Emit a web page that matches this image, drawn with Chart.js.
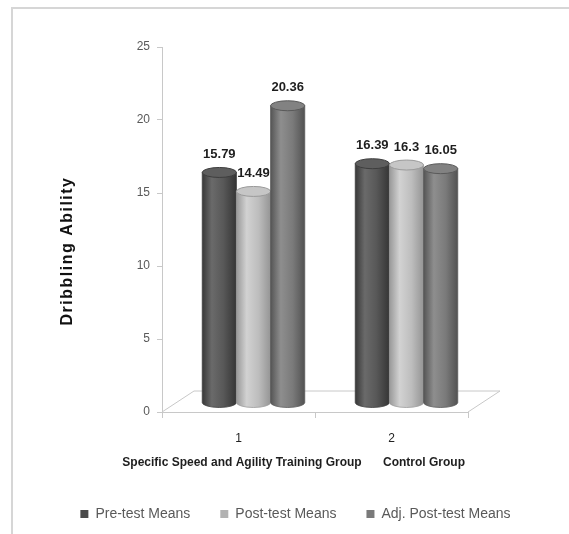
<!DOCTYPE html>
<html>
<head>
<meta charset="utf-8">
<script src="https://cdn.jsdelivr.net/npm/chart.js@4"></script>
<style>
  html, body { margin: 0; padding: 0; background: #fff; }
  #wrap { position: relative; width: 569px; height: 534px; }
</style>
</head>
<body>
<div id="wrap"><canvas id="c" width="569" height="534"></canvas></div>
<script>
// ---- data ----
const categories = ['1', '2'];
const seriesNames = ['Pre-test Means', 'Post-test Means', 'Adj. Post-test Means'];
const preTest = [15.79, 16.39];
const postTest = [14.49, 16.3];
const adjPostTest = [20.36, 16.05];
const yTicks = [0, 5, 10, 15, 20, 25];
const yTitle = 'Dribbling Ability';
const groupNames = ['Specific Speed and Agility Training Group', 'Control Group'];

// ---- styles ----
const legendColors = ['#4a4a4a', '#b2b2b2', '#7a7a7a'];
const bodyStops = [
  [[0, '#383838'], [0.28, '#6a6a6a'], [0.62, '#585858'], [1, '#353535']],
  [[0, '#989898'], [0.3, '#d2d2d2'], [0.65, '#bdbdbd'], [1, '#959595']],
  [[0, '#555555'], [0.3, '#8e8e8e'], [0.65, '#7a7a7a'], [1, '#525252']]
];
const capFill = ['#5e5e5e', '#c6c6c6', '#828282'];
const capStroke = ['#3e3e3e', '#9a9a9a', '#5a5a5a'];
const BAR_DX = 15, BAR_DY = -9, FLOOR_DX = 32, FLOOR_DY = -21, RY = 5;

const cylPlugin = {
  id: 'cyl',
  beforeDraw(chart) {
    const ctx = chart.ctx;
    ctx.save();
    ctx.strokeStyle = '#d6d6d6';
    ctx.lineWidth = 2;
    ctx.beginPath();
    ctx.moveTo(12, 534); ctx.lineTo(12, 8); ctx.lineTo(569, 8);
    ctx.stroke();
    ctx.restore();
  },
  beforeDatasetsDraw(chart) {
    const ctx = chart.ctx;
    const a = chart.chartArea;
    const y0 = chart.scales.y.getPixelForValue(0);
    // floor
    ctx.save();
    ctx.strokeStyle = '#c8c8c8';
    ctx.lineWidth = 1;
    ctx.beginPath();
    ctx.moveTo(a.left, y0);
    ctx.lineTo(a.left + FLOOR_DX, y0 + FLOOR_DY);
    ctx.lineTo(a.right + FLOOR_DX, y0 + FLOOR_DY);
    ctx.lineTo(a.right, y0);
    ctx.stroke();
    ctx.restore();
    // cylinders
    const order = [];
    chart.data.datasets.forEach((ds, di) => {
      chart.getDatasetMeta(di).data.forEach((bar, j) => order.push({di, j, bar}));
    });
    order.sort((p, q) => p.bar.x - q.bar.x);
    order.forEach(({di, bar}) => {
      const cx = bar.x + BAR_DX;
      const rx = bar.width / 2;
      const top = bar.y + BAR_DY;
      const base = bar.base + BAR_DY;
      const g = ctx.createLinearGradient(cx - rx, 0, cx + rx, 0);
      bodyStops[di].forEach(s => g.addColorStop(s[0], s[1]));
      ctx.save();
      ctx.fillStyle = g;
      ctx.beginPath();
      ctx.moveTo(cx - rx, top);
      ctx.lineTo(cx - rx, base);
      ctx.ellipse(cx, base, rx, RY, 0, Math.PI, 0, true);
      ctx.lineTo(cx + rx, top);
      ctx.closePath();
      ctx.fill();
      ctx.strokeStyle = capStroke[di];
      ctx.lineWidth = 0.8;
      ctx.stroke();
      ctx.beginPath();
      ctx.ellipse(cx, top, rx, RY, 0, 0, Math.PI * 2);
      ctx.fillStyle = capFill[di];
      ctx.fill();
      ctx.strokeStyle = capStroke[di];
      ctx.lineWidth = 1;
      ctx.stroke();
      ctx.restore();
    });
    // value labels
    ctx.save();
    ctx.font = 'bold 13px "Liberation Sans", Arial, sans-serif';
    ctx.fillStyle = '#1e1e1e';
    ctx.textAlign = 'center';
    ctx.textBaseline = 'middle';
    chart.data.datasets.forEach((ds, di) => {
      chart.getDatasetMeta(di).data.forEach((bar, j) => {
        ctx.fillText(String(ds.data[j]), bar.x + BAR_DX, bar.y + BAR_DY - RY - 13);
      });
    });
    ctx.restore();
    return false;
  },
  afterDraw(chart) {
    const ctx = chart.ctx;
    ctx.save();
    // y title
    ctx.translate(68, 251);
    ctx.rotate(-Math.PI / 2);
    ctx.font = 'bold 16px "Liberation Sans", Arial, sans-serif';
    if ('letterSpacing' in ctx) ctx.letterSpacing = '1.5px';
    ctx.fillStyle = '#111';
    ctx.textAlign = 'center';
    ctx.textBaseline = 'middle';
    ctx.fillText(yTitle, 0, 0);
    ctx.restore();
    // group names
    ctx.save();
    ctx.font = 'bold 12px "Liberation Sans", Arial, sans-serif';
    ctx.fillStyle = '#1e1e1e';
    ctx.textAlign = 'center';
    ctx.textBaseline = 'middle';
    ctx.fillText(groupNames[0], 242, 463);
    ctx.fillText(groupNames[1], 424, 463);
    ctx.restore();
  }
};

new Chart(document.getElementById('c'), {
  type: 'bar',
  plugins: [cylPlugin],
  data: {
    labels: categories,
    datasets: [
      { label: seriesNames[0], data: preTest, backgroundColor: legendColors[0] },
      { label: seriesNames[1], data: postTest, backgroundColor: legendColors[1] },
      { label: seriesNames[2], data: adjPostTest, backgroundColor: legendColors[2] }
    ]
  },
  options: {
    responsive: false,
    animation: false,
    layout: { padding: { left: 22, right: 0, top: 47, bottom: 3 } },
    datasets: { bar: { categoryPercentage: 0.67, barPercentage: 1.0 } },
    plugins: {
      tooltip: { enabled: false },
      legend: {
        position: 'bottom',
        labels: {
          boxWidth: 8, boxHeight: 8, padding: 30,
          color: '#595959',
          font: { size: 14, family: '"Liberation Sans", Arial, sans-serif' }
        }
      }
    },
    scales: {
      x: {
        grid: { display: true, drawOnChartArea: false, drawTicks: true, tickLength: 6, offset: true, color: '#c8c8c8' },
        border: { display: true, color: '#c8c8c8' },
        ticks: { padding: 13, color: '#222', font: { size: 12, family: '"Liberation Sans", Arial, sans-serif' } },
        afterFit(s) { s.height = 65; }
      },
      y: {
        min: 0, max: 25,
        afterBuildTicks(s) { s.ticks = yTicks.map(v => ({ value: v })); },
        grid: { display: true, drawOnChartArea: false, drawTicks: true, tickLength: 5, color: '#c8c8c8' },
        border: { display: true, color: '#c8c8c8' },
        ticks: { padding: 7, color: '#595959', font: { size: 12, family: '"Liberation Sans", Arial, sans-serif' } },
        afterFit(s) { s.width = 140; }
      },
      y2: {
        position: 'right',
        display: true,
        grid: { display: false },
        border: { display: false },
        ticks: { display: false },
        afterFit(s) { s.width = 101; }
      }
    }
  }
});
</script>
</body>
</html>
